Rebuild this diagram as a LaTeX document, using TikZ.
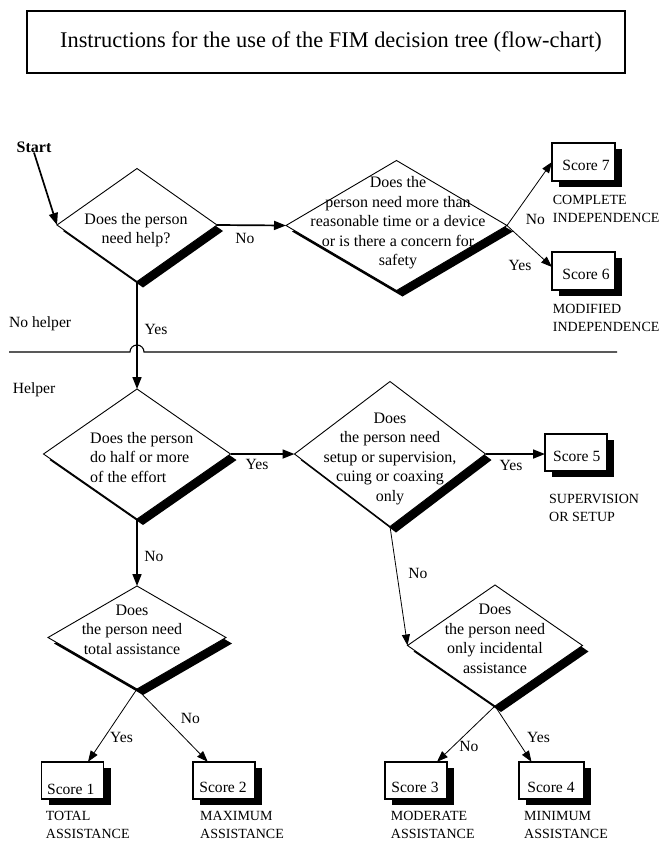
\documentclass[tikz,border=0pt]{standalone}
\usepackage{fontspec}
\setmainfont{Liberation Serif}
\usetikzlibrary{shapes.geometric,arrows.meta,shadows}
\begin{document}
\begin{tikzpicture}[x=1pt,y=-1pt,
  dec/.style={diamond, draw, line width=0.9pt, fill=white, inner sep=0pt, outer sep=0pt,
    drop shadow={shadow xshift=6pt,shadow yshift=-6pt,fill=black,opacity=1}},
  scorebox/.style={rectangle, draw, line width=1.5pt, fill=white, inner sep=0pt, outer sep=0pt,
    drop shadow={shadow xshift=7pt,shadow yshift=-6pt,fill=black,opacity=1}},
  qtext/.style={font=\fontsize{16}{19.5}\selectfont, align=center, inner sep=0pt},
  lab/.style={font=\fontsize{15.6}{18}\selectfont, inner sep=0pt},
  captext/.style={font=\fontsize{14}{17.5}\selectfont, align=left, inner sep=0pt, anchor=west},
  thickarrow/.style={line width=1.7pt, -{Triangle[length=12pt,width=9pt]}},
  thinarrow/.style={line width=0.8pt, -{Triangle[length=11pt,width=8pt]}}
]
\useasboundingbox (0,0) rectangle (663,841);

% title
\node[draw, line width=1.8pt, minimum width=598pt, minimum height=62pt, inner sep=0pt] (titlebox) at (325.8,41.7) {};
\node[font=\fontsize{22.4}{26}\selectfont, inner sep=0pt] (title) at (331,41.5) {Instructions for the use of the FIM decision tree (flow-chart)};

% diamonds
\node[dec, minimum width=160pt, minimum height=113pt] (d1) at (137,225) {};
\node[dec, minimum width=221pt, minimum height=130pt] (d2) at (396.5,225.5) {};
\node[dec, minimum width=187pt, minimum height=130pt] (d3) at (137,454) {};
\node[dec, minimum width=191pt, minimum height=145pt] (d4) at (390,454) {};
\node[dec, minimum width=175pt, minimum height=121pt] (d5) at (495,645.5) {};
\node[dec, minimum width=178pt, minimum height=103pt] (d6) at (137,637.5) {};

\node[qtext] (t1) at (136,230) {Does the person\\need help?};
\node[qtext] (t2) at (398,223) {Does the\\person need more than\\reasonable time or a device\\or is there a concern for\\safety};
\node[qtext, align=left, anchor=west] (t3) at (90,457.5) {Does the person\\do half or more\\of the effort};
\node[qtext] (t4) at (390,458.7) {Does\\the person need\\setup or supervision,\\cuing or coaxing\\only};
\node[qtext] (t5) at (495,639) {Does\\the person need\\only incidental\\assistance};
\node[qtext] (t6) at (132,629.5) {Does\\the person need\\total assistance};

% score boxes
\node[scorebox, minimum width=63pt, minimum height=38pt] (s7) at (583.5,162) {};
\node[scorebox, minimum width=63pt, minimum height=38pt] (s6) at (583.5,271) {};
\node[scorebox, minimum width=62pt, minimum height=37pt] (s5) at (576,452.5) {};
\node[scorebox, minimum width=62pt, minimum height=37pt] (s1) at (72.5,780.3) {};
\node[scorebox, minimum width=62pt, minimum height=37pt] (s2) at (223.8,780.3) {};
\node[scorebox, minimum width=62pt, minimum height=37pt] (s3) at (416,780.3) {};
\node[scorebox, minimum width=65pt, minimum height=37pt] (s4) at (551.5,780.3) {};

\node[lab] (st7) at (586,165) {Score 7};
\node[lab] (st6) at (586,274) {Score 6};
\node[lab] (st5) at (576.7,456.7) {Score 5};
\node[lab] (st1) at (70.7,789) {Score 1};
\node[lab] (st2) at (223,787) {Score 2};
\node[lab] (st3) at (415,787) {Score 3};
\node[lab] (st4) at (551,787) {Score 4};

% captions
\node[captext] (c7) at (552.7,209) {COMPLETE\\INDEPENDENCE};
\node[captext] (c6) at (552.7,318) {MODIFIED\\INDEPENDENCE};
\node[captext] (c5) at (549,508) {SUPERVISION\\OR SETUP};
\node[captext] (c1) at (45.7,825) {TOTAL\\ASSISTANCE};
\node[captext] (c2) at (200,825) {MAXIMUM\\ASSISTANCE};
\node[captext] (c3) at (390.7,825) {MODERATE\\ASSISTANCE};
\node[captext] (c4) at (524,825) {MINIMUM\\ASSISTANCE};

% side labels
\node[font=\bfseries\fontsize{16}{19}\selectfont, inner sep=0pt] (start) at (34,147) {Start};
\node[lab, anchor=west] (nohelper) at (9,324) {No helper};
\node[lab, anchor=west] (helper) at (12.7,390) {Helper};

% divider with jump
\coordinate (divL) at (9,352);
\coordinate (divR) at (617,352);
\draw[line width=1.1pt] (divL) -- (130,352) arc[start angle=180, end angle=0, radius=7pt] -- (divR);

% connectors
\draw[thickarrow] (start.south) -- (d1.west);
\draw[thickarrow] (d1.east) -- (d2.west);
\node[lab] (l12) at (245,238) {No};
\draw[thickarrow] (d1.south) -- (d3.north);
\node[lab] (l13) at (156,329) {Yes};

\draw[thinarrow] (d2.east) -- (s7.west);
\node[lab] (l27) at (535.5,219) {No};
\draw[thinarrow] (d2.east) -- ([yshift=4pt]s6.west);
\node[lab] (l26) at (520,265) {Yes};

\draw[thickarrow] (d3.east) -- (d4.west);
\node[lab] (l34) at (257,464) {Yes};
\draw[thickarrow] (d3.south) -- (d6.north);
\node[lab] (l36) at (154,556) {No};

\draw[thickarrow] (d4.east) -- ([yshift=-1.5pt]s5.west);
\node[lab] (l45) at (511,465) {Yes};
\draw[thinarrow] (d4.south) -- (d5.west);
\node[lab] (l4d5) at (418,573) {No};

\draw[thinarrow] (d6.south) -- ([xshift=15.5pt]s1.north);
\node[lab] (l61) at (121.5,737) {Yes};
\draw[thinarrow] (d6.south) -- ([xshift=-16pt]s2.north);
\node[lab] (l62) at (190.5,718) {No};

\draw[thinarrow] (d5.south) -- ([xshift=21pt]s3.north);
\node[lab] (l53) at (469,746) {No};
\draw[thinarrow] (d5.south) -- ([xshift=-20pt]s4.north);
\node[lab] (l54) at (538.5,737) {Yes};
\end{tikzpicture}
\end{document}
